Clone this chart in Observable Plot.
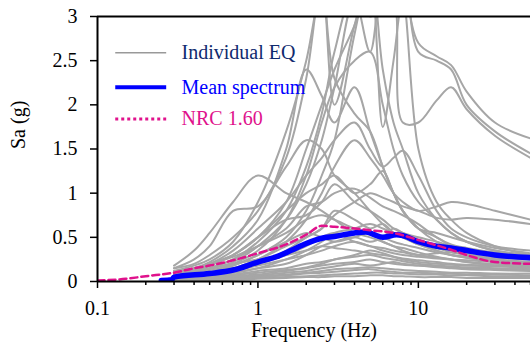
<!DOCTYPE html>
<html>
<head>
<meta charset="utf-8">
<script src="https://cdn.jsdelivr.net/npm/d3@7"></script>
<script src="https://cdn.jsdelivr.net/npm/@observablehq/plot@0.6"></script>
</head>
<body style="margin:0; font-family: 'Liberation Serif', serif;">
<div id="chart"></div>
<div style="height:0; overflow:hidden; font-family:'Liberation Serif', serif;">&nbsp;</div>
<script>
// Frequencies (Hz) at which individual spectra were read
const freq = [0.3, 0.4, 0.5, 0.7, 1, 1.5, 2, 2.5, 3, 4, 5, 6, 7, 8, 10, 13, 16, 20, 30, 50];

// Individual earthquake spectra, Sa (g)
const eqSpectra = [
  [0.15,0.2,0.3,0.5,0.8,1.4,2.3,3.4,2.0,2.9,3.5,2.4,1.8,1.5,1.0,0.7,0.55,0.45,0.35,0.3],
  [0.1,0.12,0.18,0.3,0.5,0.9,1.5,2.0,2.4,2.9,3.4,3.6,3.8,3.5,2.7,2.55,2.45,2.15,1.8,1.62],
  [0.08,0.1,0.15,0.25,0.45,0.8,1.3,1.9,2.6,3.3,3.0,3.2,3.5,3.8,2.6,2.5,2.4,2.0,1.7,1.45],
  [0.06,0.1,0.14,0.22,0.4,0.7,1.1,1.6,2.2,3.2,2.6,3.3,3.2,1.8,1.8,2.05,2.2,1.95,1.65,1.4],
  [0.05,0.08,0.12,0.2,0.35,0.7,1.2,1.8,2.2,2.5,2.6,2.0,1.5,1.2,0.9,0.7,0.55,0.45,0.35,0.3],
  [0.12,0.18,0.25,0.45,0.9,1.7,2.5,3.3,2.3,1.9,1.7,1.3,1.0,0.8,0.6,0.5,0.4,0.32,0.25,0.2],
  [0.1,0.15,0.22,0.4,0.7,1.5,2.4,2.1,1.8,2.2,1.7,1.3,1.0,0.8,0.6,0.45,0.38,0.3,0.25,0.2],
  [0.05,0.08,0.1,0.18,0.3,0.5,0.8,1.2,1.6,2.8,3.5,1.75,2.5,3.2,1.5,0.9,0.7,0.55,0.4,0.3],
  [0.18,0.35,0.55,0.9,1.2,1.0,0.9,0.8,0.7,0.55,0.5,0.45,0.4,0.38,0.33,0.28,0.25,0.22,0.18,0.15],
  [0.15,0.25,0.4,0.8,0.85,1.3,1.6,1.5,1.2,1.0,0.8,0.65,0.55,0.5,0.42,0.35,0.3,0.27,0.22,0.2],
  [0.05,0.08,0.1,0.15,0.25,0.45,0.7,1.0,1.3,1.6,1.4,1.2,1.0,0.9,0.8,0.85,0.9,0.88,0.8,0.7],
  [0.1,0.15,0.2,0.35,0.6,0.9,1.2,1.4,1.6,1.8,1.5,1.3,1.4,1.48,1.2,0.8,0.6,0.5,0.4,0.35],
  [0.08,0.12,0.18,0.3,0.5,0.8,1.0,1.1,1.2,1.0,1.1,1.25,1.0,0.8,0.6,0.55,0.5,0.45,0.38,0.32],
  [0.06,0.1,0.15,0.25,0.4,0.6,0.85,0.9,1.0,1.05,0.95,0.85,0.8,0.75,0.65,0.5,0.42,0.38,0.33,0.3],
  [0.1,0.14,0.2,0.3,0.5,0.7,0.75,0.9,1.1,0.9,0.8,0.7,0.6,0.55,0.5,0.45,0.4,0.35,0.3,0.25],
  [0.04,0.06,0.08,0.13,0.2,0.35,0.5,0.6,0.75,0.9,1.0,0.95,0.9,0.85,0.8,0.72,0.7,0.72,0.7,0.65],
  [0.12,0.15,0.2,0.28,0.4,0.55,0.7,0.75,0.7,0.6,0.55,0.5,0.45,0.42,0.38,0.33,0.3,0.27,0.24,0.22],
  [0.05,0.08,0.1,0.15,0.25,0.4,0.5,0.6,0.8,0.7,0.6,0.65,0.55,0.5,0.42,0.35,0.3,0.28,0.25,0.22],
  [0.02,0.04,0.06,0.1,0.15,0.25,0.35,0.45,0.55,0.6,0.65,0.6,0.55,0.5,0.45,0.4,0.35,0.33,0.3,0.28],
  [0.08,0.1,0.12,0.18,0.3,0.45,0.55,0.5,0.45,0.5,0.55,0.45,0.4,0.35,0.3,0.27,0.25,0.22,0.2,0.18],
  [0.03,0.05,0.07,0.1,0.15,0.2,0.3,0.4,0.45,0.5,0.45,0.5,0.6,0.55,0.45,0.38,0.33,0.3,0.27,0.25],
  [0.1,0.12,0.15,0.2,0.25,0.3,0.35,0.4,0.38,0.35,0.32,0.3,0.28,0.26,0.24,0.22,0.2,0.19,0.18,0.17],
  [0.04,0.06,0.08,0.12,0.18,0.25,0.3,0.35,0.4,0.45,0.4,0.38,0.35,0.33,0.3,0.32,0.33,0.32,0.3,0.28],
  [0.06,0.08,0.1,0.14,0.2,0.3,0.4,0.5,0.55,0.45,0.4,0.35,0.32,0.3,0.28,0.26,0.25,0.24,0.22,0.2],
  [0.02,0.03,0.04,0.06,0.08,0.12,0.15,0.18,0.2,0.22,0.25,0.22,0.2,0.19,0.18,0.17,0.16,0.15,0.14,0.13],
  [0.01,0.02,0.03,0.04,0.06,0.08,0.1,0.12,0.14,0.15,0.16,0.15,0.14,0.13,0.12,0.11,0.1,0.1,0.09,0.09],
  [0.03,0.04,0.05,0.07,0.1,0.13,0.16,0.2,0.25,0.28,0.3,0.27,0.25,0.23,0.2,0.18,0.17,0.16,0.15,0.14],
  [0.01,0.01,0.02,0.03,0.04,0.05,0.06,0.07,0.08,0.09,0.1,0.1,0.09,0.09,0.08,0.08,0.07,0.07,0.06,0.06],
  [0.02,0.03,0.04,0.05,0.07,0.1,0.12,0.15,0.17,0.2,0.18,0.2,0.22,0.2,0.18,0.16,0.15,0.14,0.13,0.12],
  [0.0,0.01,0.01,0.02,0.03,0.04,0.05,0.05,0.06,0.06,0.07,0.07,0.06,0.06,0.05,0.05,0.05,0.04,0.04,0.04],
  [0.04,0.05,0.06,0.08,0.12,0.15,0.2,0.22,0.25,0.3,0.35,0.32,0.28,0.25,0.22,0.2,0.19,0.18,0.17,0.16],
  [0.01,0.02,0.02,0.03,0.05,0.07,0.09,0.1,0.11,0.13,0.14,0.12,0.11,0.1,0.1,0.09,0.09,0.08,0.08,0.07]
];

// Mean spectrum
const meanFreq = [0.25, 0.29, 0.3, 0.5, 0.7, 1, 1.3, 1.6, 2, 2.5, 3, 4, 4.7, 5.3, 6, 7.3, 8, 10, 13, 16, 20, 30, 50];
const meanSa   = [0.01, 0.02, 0.05, 0.09, 0.13, 0.22, 0.28, 0.35, 0.43, 0.49, 0.51, 0.55, 0.56, 0.53, 0.50, 0.53, 0.52, 0.45, 0.40, 0.38, 0.35, 0.30, 0.27];

// NRC 1.60 design spectrum
const nrcFreq = [0.1, 0.15, 0.2, 0.3, 0.4, 0.5, 0.7, 1, 1.5, 2, 2.5, 3, 4, 5, 7, 10, 13, 16, 20, 30, 50];
const nrcSa   = [0.01, 0.03, 0.06, 0.10, 0.15, 0.18, 0.24, 0.32, 0.42, 0.53, 0.63, 0.62, 0.60, 0.58, 0.55, 0.47, 0.41, 0.36, 0.30, 0.22, 0.20];

// Axis ticks
const xMajorTicks = [0.1, 1, 10];
const xMinorTicks = [0.2,0.3,0.4,0.5,0.6,0.7,0.8,0.9,2,3,4,5,6,7,8,9,20,30,40,50];
const yTicks = [0, 0.5, 1, 1.5, 2, 2.5, 3];

// Legend entries
const legendLabels = ["Individual EQ", "Mean spectrum", "NRC 1.60"];
const legendTextColors = ["#102a6e", "#0000ff", "#e0128c"];

const eqTable = eqSpectra.flatMap((vals, i) => vals.map((v, j) => ({eq: i, f: freq[j], sa: v})));
const meanTable = meanFreq.map((f, i) => ({f, sa: meanSa[i]}));
const nrcTable = nrcFreq.map((f, i) => ({f, sa: nrcSa[i]}));

// legend placement in data coordinates
const legX1 = 0.129, legX2 = 0.268, legTextX = 0.334;
const legY = [2.59, 2.2, 1.84];

const font = "Liberation Serif";
const fontStack = "'Liberation Serif', 'Times New Roman', Times, serif";

const chart = Plot.plot({
  width: 530,
  height: 352,
  marginLeft: 97,
  marginRight: 0,
  marginTop: 16,
  marginBottom: 71,
  x: {type: "log", domain: [0.1, 50]},
  y: {domain: [0, 3]},
  marks: [
    Plot.lineY(eqTable, {x: "f", y: "sa", z: "eq", stroke: "#a6a6a6", strokeWidth: 2, curve: "catmull-rom", clip: true}),
    Plot.lineY(meanTable, {x: "f", y: "sa", stroke: "#0000ff", strokeWidth: 5.5, curve: "monotone-x", clip: true}),
    Plot.lineY(nrcTable, {x: "f", y: "sa", stroke: "#e0128c", strokeWidth: 2.5, strokeDasharray: "7,4", curve: "monotone-x", clip: true}),
    Plot.ruleX([0.1], {stroke: "#000", strokeWidth: 2}),
    Plot.ruleY([0], {stroke: "#000", strokeWidth: 2}),
    Plot.ruleY([3], {stroke: "#000", strokeWidth: 2}),
    Plot.axisY({ticks: yTicks, tickSize: 7, tickPadding: 13, tickFormat: d => String(d), fontSize: 20, fontFamily: font, strokeWidth: 1.5, label: null}),
    Plot.axisX({ticks: xMajorTicks, tickSize: 7, tickPadding: 12, tickFormat: d => String(d), fontSize: 20, fontFamily: font, strokeWidth: 1.5, label: null}),
    Plot.axisX({ticks: xMinorTicks, tickSize: 4, tickFormat: () => "", strokeWidth: 1.5, label: null}),
    Plot.text(["Sa (g)"], {frameAnchor: "left", dx: -79, rotate: -90, fontSize: 20, fontFamily: font, fill: "#000"}),
    Plot.text(["Frequency (Hz)"], {frameAnchor: "bottom", dy: 55, fontSize: 20, fontFamily: font, fill: "#000"}),
    Plot.link([0], {x1: () => legX1, x2: () => legX2, y1: () => legY[0], y2: () => legY[0], stroke: "#999999", strokeWidth: 1.5}),
    Plot.link([0], {x1: () => legX1, x2: () => legX2, y1: () => legY[1], y2: () => legY[1], stroke: "#0000ff", strokeWidth: 4}),
    Plot.link([0], {x1: () => legX1, x2: () => legX2, y1: () => legY[2], y2: () => legY[2], stroke: "#e0128c", strokeWidth: 3, strokeDasharray: "3,3"}),
    Plot.text(legendLabels.slice(0, 1), {x: () => legTextX, y: () => legY[0], fill: legendTextColors[0], textAnchor: "start", fontSize: 20, fontFamily: font}),
    Plot.text(legendLabels.slice(1, 2), {x: () => legTextX, y: () => legY[1], fill: legendTextColors[1], textAnchor: "start", fontSize: 20, fontFamily: font}),
    Plot.text(legendLabels.slice(2, 3), {x: () => legTextX, y: () => legY[2], fill: legendTextColors[2], textAnchor: "start", fontSize: 20, fontFamily: font})
  ]
});

// put the serif family directly on the root and on every text element
chart.setAttribute("font-family", fontStack);
chart.style.fontFamily = fontStack;
chart.querySelectorAll("g[font-family]").forEach(g => g.setAttribute("font-family", fontStack));
chart.querySelectorAll("text").forEach(t => {
  t.setAttribute("font-family", fontStack);
  t.style.fontFamily = fontStack;
});

document.getElementById("chart").appendChild(chart);
</script>
</body>
</html>
